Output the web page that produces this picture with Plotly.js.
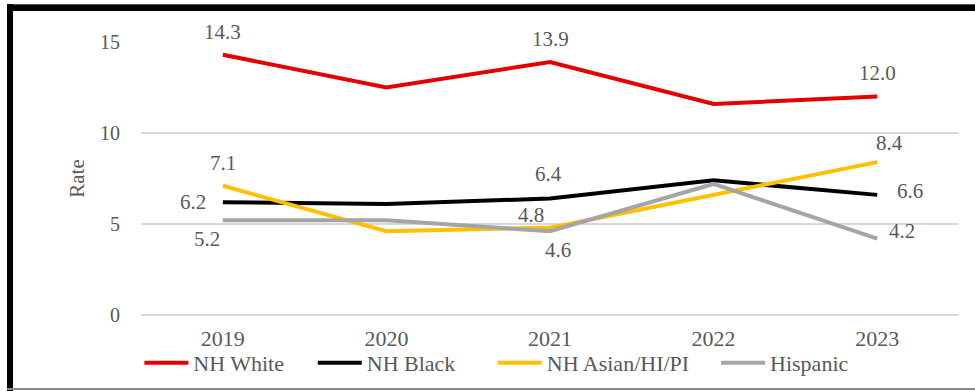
<!DOCTYPE html>
<html>
<head>
<meta charset="utf-8">
<script src="https://cdn.plot.ly/plotly-3.0.1.min.js"></script>
<style>
  html, body { margin: 0; padding: 0; background: #fff; }
  #wrap { position: relative; width: 975px; height: 391px; overflow: hidden; }
  #chart { position: absolute; left: 0; top: 0; width: 975px; height: 391px; }
  .frame { position: absolute; pointer-events: none; }
</style>
</head>
<body>
<div id="wrap">
  <div id="chart"></div>
  <!-- heavy frame on the top and left, thin rule at the bottom -->
  <div class="frame" style="left:7px; top:4px; width:968px; height:1px; background:#555;"></div>
  <div class="frame" style="left:7px; top:5px; width:968px; height:6px; background:#000;"></div>
  <div class="frame" style="left:7px; top:4px; width:6px; height:387px; background:#000;"></div>
  <div class="frame" style="left:7px; top:388px; width:968px; height:2px; background:#8a8a8a;"></div>
</div>
<script>
// Rates by year and group
const years = ['2019', '2020', '2021', '2022', '2023'];
const nhWhite = [14.3, 12.5, 13.9, 11.6, 12.0];
const nhBlack = [6.2, 6.1, 6.4, 7.4, 6.6];
const nhAsian = [7.1, 4.6, 4.8, 6.6, 8.4];
const hispanic = [5.2, 5.2, 4.6, 7.2, 4.2];
const yTicks = [0, 5, 10, 15];

const seriesNames = ['NH White', 'NH Black', 'NH Asian/HI/PI', 'Hispanic'];
const seriesColors = ['#E60000', '#000000', '#FFC000', '#A5A5A5'];
const seriesValues = [nhWhite, nhBlack, nhAsian, hispanic];

const textColor = '#595959';
const serif = 'Liberation Serif';

// one legend box per series so each entry can sit at its own spot
const legendIds = ['legend', 'legend2', 'legend3', 'legend4'];
const legendLeft = [-0.002, 0.21, 0.43, 0.703];

const traces = seriesValues.map((vals, i) => ({
  type: 'scatter',
  mode: 'lines',
  x: years,
  y: vals,
  name: seriesNames[i],
  legend: legendIds[i],
  line: { color: seriesColors[i], width: 4 },
  hoverinfo: 'skip'
}));

// Labelled points: [series index, year index, xshift, yshift, anchor]
const labelSpots = [
  [0, 0, 0, 23, 'center'], [0, 2, 0, 23, 'center'], [0, 4, 0, 24, 'center'],
  [1, 0, -15, 0, 'right'], [1, 2, -2, 25, 'center'], [1, 4, 33, 4, 'center'],
  [2, 0, 0, 23, 'center'], [2, 2, -19, 13, 'center'], [2, 4, 12, 19, 'center'],
  [3, 0, -16, -19, 'center'], [3, 2, 8, -19, 'center'], [3, 4, 25, 8, 'center']
];

const annotations = labelSpots.map(([s, k, dx, dy, anchor]) => ({
  x: k,            // category index on the x axis
  y: seriesValues[s][k],
  xref: 'x', yref: 'y',
  text: seriesValues[s][k].toFixed(1),
  showarrow: false,
  xanchor: anchor,
  yanchor: 'middle',
  xshift: dx,
  yshift: dy,
  font: { family: serif, size: 21, color: textColor }
}));

const layout = {
  width: 975,
  height: 391,
  margin: { l: 141, r: 16, t: 42, b: 76, pad: 0, autoexpand: false },
  paper_bgcolor: 'rgba(0,0,0,0)',
  plot_bgcolor: '#fff',
  font: { family: serif, color: textColor },
  showlegend: true,
  xaxis: {
    type: 'category',
    range: [-0.5, 4.5],
    automargin: false,
    showgrid: false,
    zeroline: false,
    showline: false,
    ticks: '',
    tickfont: { family: serif, size: 22, color: textColor },
    ticklabelstandoff: 8,
    fixedrange: true
  },
  yaxis: {
    range: [0, 15],
    automargin: false,
    tickvals: yTicks,
    ticktext: yTicks.map(String),
    showgrid: true,
    gridcolor: '#D9D9D9',
    gridwidth: 1.5,
    zeroline: true,
    zerolinecolor: '#D9D9D9',
    zerolinewidth: 1.5,
    showline: false,
    ticks: '',
    tickfont: { family: serif, size: 20, color: textColor },
    ticklabelstandoff: 20,
    title: { text: 'Rate', font: { family: serif, size: 21, color: textColor }, standoff: 9 },
    fixedrange: true
  },
  annotations: annotations
};

legendIds.forEach((id, i) => {
  layout[id] = {
    orientation: 'h',
    x: legendLeft[i],
    xanchor: 'left',
    y: -0.176,
    yanchor: 'middle',
    font: { family: serif, size: 22, color: textColor },
    itemwidth: 44,
    bgcolor: 'rgba(0,0,0,0)',
    borderwidth: 0
  };
});

Plotly.newPlot('chart', traces, layout, { displayModeBar: false, staticPlot: true });
</script>
</body>
</html>
